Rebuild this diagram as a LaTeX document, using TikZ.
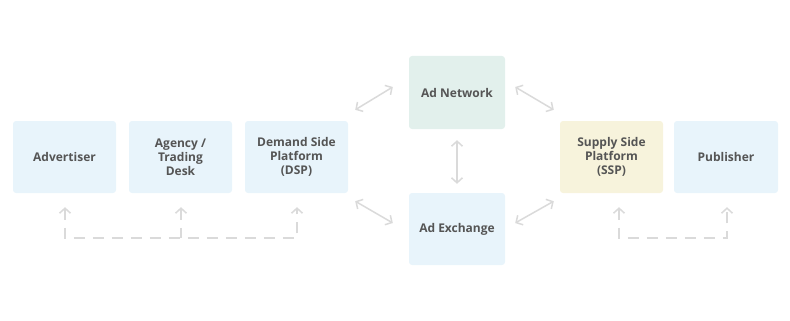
\documentclass[tikz,border=0pt]{standalone}
\usepackage{fontspec}
\setmainfont{Open Sans}
\usepackage{xcolor}
\definecolor{adSky}    {RGB}{232, 244, 251}
\definecolor{adMint}   {RGB}{226, 240, 236}
\definecolor{adCream}  {RGB}{247, 243, 220}
\definecolor{adInk}    {RGB}{ 85,  85,  85}
\definecolor{adLink}   {RGB}{218, 218, 218}
\usepackage{tikz}
\usetikzlibrary{
  arrows.meta,
  positioning,
  calc,
}

\begin{document}
\begin{tikzpicture}[
  x=1pt, y=-1pt,
  font=\fontsize{12}{14}\selectfont\bfseries,
  >={Straight Barb[length=5pt,width=11pt]},
  box/.style={rounded corners=3pt, text=adInk, align=center,
    minimum width=103pt, minimum height=72pt, inner sep=2pt},
  link/.style={draw=adLink, line width=1.5pt, <->},
  feed/.style={draw=adLink, line width=1.5pt, dash pattern=on 11pt off 8pt},
]
  % Scale: 1pt = 1px, y grows downwards
  \useasboundingbox (0,0) rectangle (790,321);

  % Buy side
  \node[box, fill=adSky] (adv)    at (64.5,157)  {Advertiser};
  \node[box, fill=adSky] (agency) at (180.5,157) {Agency /\\Trading\\Desk};
  \node[box, fill=adSky] (dsp)    at (296.5,157) {Demand Side\\Platform\\(DSP)};

  % Middle
  \node[box, fill=adMint, minimum width=96pt, minimum height=73pt] (net)  at (457,92.5) {Ad Network};
  \node[box, fill=adSky,  minimum width=96pt] (exch) at (457,229) {Ad Exchange};

  % Sell side
  \node[box, fill=adCream] (ssp) at (611.5,157) {Supply Side\\Platform\\(SSP)};
  \node[box, fill=adSky, minimum width=104pt] (pub) at (726,157) {Publisher};

  % Two-way links
  \draw[link] ([shift={(7,-11)}]dsp.north east) -- ([shift={(-16,-5.5)}]net.west);
  \draw[link] ([shift={(10,-5.5)}]net.east) -- ([shift={(-6,-11)}]ssp.north west);
  \draw[link, shorten <=11pt, shorten >=9pt] (net.south) -- (exch.north);
  \draw[link] ([shift={(7,8)}]dsp.south east) -- ([shift={(-16,-6)}]exch.west);
  \draw[link] ([shift={(10,-6)}]exch.east) -- ([shift={(-6,8)}]ssp.south west);

  % Dashed feedback lines under the boxes
  \draw[feed, <->] ([shift={(0.5,14)}]adv.south) -- ++(0,31) -| ([shift={(0.5,14)}]dsp.south);
  \draw[feed, <-] ([shift={(0.5,14)}]agency.south) -- ++(0,31);
  \draw[feed, <->] ([shift={(7.5,14)}]ssp.south) -- ++(0,31) -| ([shift={(1,14)}]pub.south);

\end{tikzpicture}
\end{document}
